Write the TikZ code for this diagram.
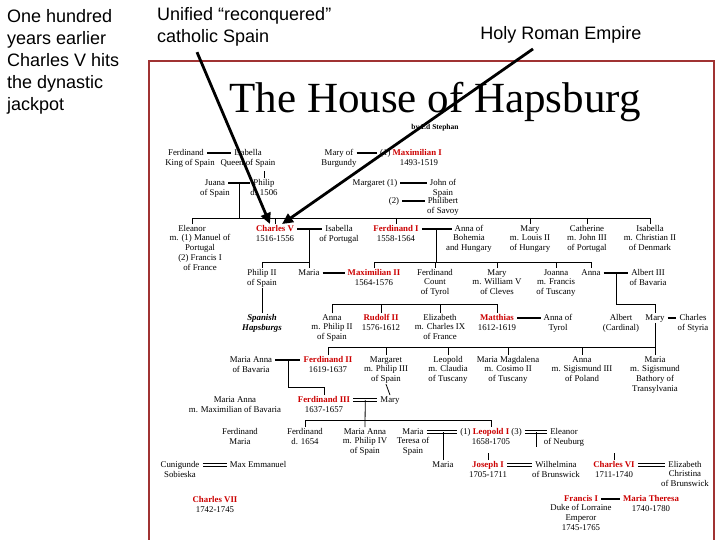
\documentclass[tikz,border=0pt]{standalone}
\usepackage{fontspec}
\setmainfont{Liberation Serif}
\newfontfamily\arialfont{Liberation Sans}
\usepackage{xcolor}
\usetikzlibrary{positioning,arrows.meta,calc}
\definecolor{hapred}{RGB}{204,0,0}
\definecolor{hapframe}{RGB}{160,50,50}
\newcommand\tfs{\fontsize{8.8}{9.8}\selectfont}

\begin{document}
\begin{tikzpicture}[x=1pt,y=-1pt,
    nm/.style={font=\tfs,inner xsep=1pt,inner ysep=0.5pt,text height=6.5pt,text depth=2pt},
    rn/.style={nm,font=\tfs\bfseries,text=hapred},
    dt/.style={font=\tfs,inner sep=0.5pt,align=center,execute at begin node={\rule{0pt}{6.5pt}}},
    lbl/.style={font=\arialfont\fontsize{18}{22}\selectfont,align=left,inner sep=0pt},
    tree/.style={line width=0.8pt},
    mar/.style={line width=1.6pt,shorten <=2pt,shorten >=2pt},
    dbl/.style={draw=black,double=white,line width=1pt,double distance=1.5pt,shorten <=2pt,shorten >=2pt},
    bigarr/.style={-{Triangle[length=11pt,width=10pt]},line width=2.8pt}]
\fill[white] (0,0) rectangle (720,540);
\useasboundingbox (0,0) rectangle (720,540);
\draw[hapframe,line width=1.2pt] (149,545) -- (149,61) -- (714,61) -- (714,545);

\node[lbl,anchor=north west] (early) at (7,9) {One hundred\\years earlier\\Charles V hits\\the dynastic\\jackpot};
\node[lbl,anchor=north west] (spain) at (157,7) {Unified “reconquered”\\catholic Spain};
\node[lbl,anchor=base] (hre) at (561,40) {Holy Roman Empire};

\node[font=\fontsize{43}{48}\selectfont,anchor=base,inner sep=0pt] (title) at (435,113) {The House of Hapsburg};
\node[font=\fontsize{7.5}{9}\selectfont\bfseries] (author) at (435,128) {by Ed Stephan};

% Ferdinand and Isabella, Maximilian I
\node[nm] (ferd) at (186,153) {Ferdinand};
\node[dt,below=0pt of ferd,xshift=4pt] (ferdD) {King of Spain};
\node[nm] (isab) at (248,153) {Isabella};
\node[dt,below=0pt of isab] (isabD) {Queen of Spain};
\node[nm] (maryb) at (339,153) {Mary of};
\node[dt,below=0pt of maryb] (marybD) {Burgundy};
\node[nm] (maxi) at (411,153) {(1) \textcolor{hapred}{\bfseries Maximilian I}};
\node[dt,below=0pt of maxi,xshift=8pt] (maxiD) {1493-1519};
\draw[mar] (ferd) -- (isab);
\draw[mar] (maryb) -- (maxi);

\node[nm] (juana) at (215,183) {Juana};
\node[dt,below=0pt of juana] (juanaD) {of Spain};
\node[nm] (philip) at (264,183) {Philip};
\node[dt,below=0pt of philip] (philipD) {d. 1506};
\node[nm] (marg) at (375,183) {Margaret (1)};
\node[nm] (john) at (443,183) {John of};
\node[dt,below=0pt of john] (johnD) {Spain};
\node[nm] (two) at (394,201) {(2)};
\node[nm] (philb) at (443,201) {Philibert};
\node[dt,below=0pt of philb] (philbD) {of Savoy};
\draw[mar] (juana) -- (philip);
\draw[mar] (marg) -- (john);
\draw[mar] (two) -- (philb);
\draw[tree] (philip.north) -- ++(0,-7);

% Charles V and his brothers and sisters
\coordinate (b1) at (0,218);
\node[nm] (elea) at (192,229) {Eleanor};
\node[dt,below=0pt of elea,xshift=8pt] (eleaD) {m. (1) Manuel of\\Portugal\\(2) Francis I\\of France};
\node[rn] (charles) at (275,229) {Charles V};
\node[dt,below=0pt of charles] (charlesD) {1516-1556};
\node[nm] (isport) at (339,229) {Isabella};
\node[dt,below=0pt of isport] (isportD) {of Portugal};
\node[rn] (ferd1) at (396,229) {Ferdinand I};
\node[dt,below=0pt of ferd1] (ferd1D) {1558-1564};
\node[nm] (annab) at (469,229) {Anna of};
\node[dt,below=0pt of annab] (annabD) {Bohemia\\and Hungary};
\node[nm] (maryh) at (530,229) {Mary};
\node[dt,below=0pt of maryh] (maryhD) {m. Louis II\\of Hungary};
\node[nm] (cath) at (587,229) {Catherine};
\node[dt,below=0pt of cath] (cathD) {m. John III\\of Portugal};
\node[nm] (isabd) at (650,229) {Isabella};
\node[dt,below=0pt of isabd] (isabdD) {m. Christian II\\of Denmark};
\coordinate (jp) at ($(juana.east)!.5!(philip.west)$);
\draw[tree] (jp) -- (jp |- b1);
\draw[tree] (elea.north) -- (elea.north |- b1) -- (isabd.north |- b1) -- (isabd.north);
\foreach \p in {charles,ferd1,maryh,cath} \draw[tree] (\p.north |- b1) -- (\p.north);
\draw[mar] (charles) -- (isport);
\draw[mar] (ferd1) -- (annab);

\coordinate (b2) at (0,262);
\node[nm] (phil2) at (262,273) {Philip II};
\node[dt,below=0pt of phil2] (phil2D) {of Spain};
\node[nm] (maria) at (309,273) {Maria};
\node[rn] (max2) at (374,273) {Maximilian II};
\node[dt,below=0pt of max2] (max2D) {1564-1576};
\node[nm] (ferdt) at (435,273) {Ferdinand};
\node[dt,below=0pt of ferdt] (ferdtD) {Count\\of Tyrol};
\node[nm] (marycl) at (497,273) {Mary};
\node[dt,below=0pt of marycl] (maryclD) {m. William V\\of Cleves};
\node[nm] (joanna) at (556,273) {Joanna};
\node[dt,below=0pt of joanna] (joannaD) {m. Francis\\of Tuscany};
\node[nm] (annaa) at (591,273) {Anna};
\node[nm] (alb3) at (648,273) {Albert III};
\node[dt,below=0pt of alb3] (alb3D) {of Bavaria};
\draw[mar] (maria) -- (max2);
\draw[mar] (annaa) -- (alb3);
\coordinate (cv) at ($(charles.east)!.5!(isport.west)$);
\draw[tree] (cv) -- (cv |- maria.north);
\draw[tree] (cv |- b2) -| (phil2.north);
\coordinate (fa) at ($(ferd1.east)!.5!(annab.west)$);
\draw[tree] (fa) -- (fa |- b2);
\draw[tree] (max2.north) |- (annaa.north |- b2) -- (annaa.north);
\foreach \p in {ferdt,marycl,joanna} \draw[tree] (\p.north |- b2) -- (\p.north);

% children of Maximilian II
\coordinate (b3) at (0,304);
\node[nm,font=\tfs\bfseries\itshape] (span) at (262,318) {Spanish};
\node[dt,font=\tfs\bfseries\itshape,below=0pt of span] (spanD) {Hapsburgs};
\node[nm] (annap) at (332,318) {Anna};
\node[dt,below=0pt of annap] (annapD) {m. Philip II\\of Spain};
\node[rn] (rudolf) at (381,318) {Rudolf II};
\node[dt,below=0pt of rudolf] (rudolfD) {1576-1612};
\node[nm] (elizf) at (440,318) {Elizabeth};
\node[dt,below=0pt of elizf] (elizfD) {m. Charles IX\\of France};
\node[rn] (matth) at (497,318) {Matthias};
\node[dt,below=0pt of matth] (matthD) {1612-1619};
\node[nm] (annat) at (558,318) {Anna of};
\node[dt,below=0pt of annat] (annatD) {Tyrol};
\node[nm] (albc) at (621,318) {Albert};
\node[dt,below=0pt of albc] (albcD) {(Cardinal)};
\node[nm] (marys) at (655,318) {Mary};
\node[nm] (charst) at (693,318) {Charles};
\node[dt,below=0pt of charst] (charstD) {of Styria};
\draw[tree] (phil2D.south) -- (span.north);
\draw[tree] (annap.north) |- (matth.north |- b3) -- (matth.north);
\foreach \p in {rudolf,elizf} \draw[tree] (\p.north |- b3) -- (\p.north);
\draw[mar] (matth) -- (annat);
\draw[mar] (marys) -- (charst);
\coordinate (aa) at ($(annaa.east)!.5!(alb3.west)$);
\draw[tree] (aa) |- (marys.north |- b3) -- (marys.north);

% Ferdinand II and the Styrian line
\coordinate (b4) at (0,347);
\node[nm] (maanb) at (251,360) {Maria Anna};
\node[dt,below=0pt of maanb] (maanbD) {of Bavaria};
\node[rn] (ferd2) at (328,360) {Ferdinand II};
\node[dt,below=0pt of ferd2] (ferd2D) {1619-1637};
\node[nm] (margp) at (386,360) {Margaret};
\node[dt,below=0pt of margp] (margpD) {m. Philip III\\of Spain};
\node[nm] (leop) at (448,360) {Leopold};
\node[dt,below=0pt of leop] (leopD) {m. Claudia\\of Tuscany};
\node[nm] (mmag) at (508,360) {Maria Magdalena};
\node[dt,below=0pt of mmag] (mmagD) {m. Cosimo II\\of Tuscany};
\node[nm] (annapl) at (582,360) {Anna};
\node[dt,below=0pt of annapl] (annaplD) {m. Sigismund III\\of Poland};
\node[nm] (mariat) at (655,360) {Maria};
\node[dt,below=0pt of mariat] (mariatD) {m. Sigismund\\Bathory of\\Transylvania};
\draw[tree] (marys.south) -- (mariat.north);
\draw[tree] (ferd2.north) |- (mariat.north |- b4);
\foreach \p in {margp,leop,mmag,annapl} \draw[tree] (\p.north |- b4) -- (\p.north);
\draw[mar] (maanb) -- (ferd2);

\node[nm] (maanm) at (235,400) {Maria Anna};
\node[dt,below=0pt of maanm] (maanmD) {m. Maximilian of Bavaria};
\node[rn] (ferd3) at (324,400) {Ferdinand III};
\node[dt,below=0pt of ferd3] (ferd3D) {1637-1657};
\node[nm] (marya) at (390,400) {Mary};
\draw[dbl] (ferd3.east) -- (marya.west);
\coordinate (mf) at ($(maanb.east)!.5!(ferd2.west)$);
\draw[tree] (mf) -- ++(0,27) -| (ferd3.north);
\draw[tree] (margpD.south) -- (marya.north);

% Leopold I
\coordinate (b5) at (0,420);
\node[nm] (ferdm) at (240,432) {Ferdinand};
\node[dt,below=0pt of ferdm] (ferdmD) {Maria};
\node[nm] (ferdd) at (305,432) {Ferdinand};
\node[dt,below=0pt of ferdd] (ferddD) {d. 1654};
\node[nm] (maanp) at (365,432) {Maria Anna};
\node[dt,below=0pt of maanp] (maanpD) {m. Philip IV\\of Spain};
\node[nm] (mtere) at (413,432) {Maria};
\node[dt,below=0pt of mtere] (mtereD) {Teresa of\\Spain};
\node[nm] (leo1) at (491,432) {(1) \textcolor{hapred}{\bfseries Leopold I} (3)};
\node[dt,below=0pt of leo1] (leo1D) {1658-1705};
\node[nm] (eleon) at (564,432) {Eleanor};
\node[dt,below=0pt of eleon] (eleonD) {of Neuburg};
\coordinate (fm) at ($(ferd3.east)!.5!(marya.west)$);
\draw[tree] (fm) -- (maanp.north);
\draw[tree] (ferdd.north) |- (leo1.north |- b5) -- (leo1.north);
\draw[dbl] (mtere.east) -- (leo1.west);
\draw[dbl] (leo1.east) -- (eleon.west);

\node[nm] (cuni) at (180,465) {Cunigunde};
\node[dt,below=0pt of cuni] (cuniD) {Sobieska};
\node[nm] (maxem) at (258,465) {Max Emmanuel};
\node[nm] (maria2) at (443,465) {Maria};
\node[rn] (jos) at (488,465) {Joseph I};
\node[dt,below=0pt of jos] (josD) {1705-1711};
\node[nm] (wilh) at (556,465) {Wilhelmina};
\node[dt,below=0pt of wilh] (wilhD) {of Brunswick};
\node[rn] (charl6) at (614,465) {Charles VI};
\node[dt,below=0pt of charl6] (charl6D) {1711-1740};
\node[nm] (elich) at (685,465) {Elizabeth};
\node[dt,below=0pt of elich] (elichD) {Christina\\of Brunswick};
\draw[tree] (maria2.north) -- (maria2.north |- mtere);
\coordinate (le) at ($(leo1.east)!.5!(eleon.west)$);
\draw[tree] (le) -- ++(0,15);
\draw[tree] (jos.north) -- ++(0,-7);
\draw[tree] (charl6.north) -- ++(0,-7);
\draw[dbl] (cuni.east) -- (maxem.west);
\draw[dbl] (jos.east) -- (wilh.west);
\draw[dbl] (charl6.east) -- (elich.west);

\node[rn] (charl7) at (215,500) {Charles VII};
\node[dt,below=0pt of charl7] (charl7D) {1742-1745};
\node[rn] (franc) at (581,499) {Francis I};
\node[dt,below=0pt of franc] (francD) {Duke of Lorraine\\Emperor\\1745-1765};
\node[rn] (mthe) at (651,499) {Maria Theresa};
\node[dt,below=0pt of mthe] (mtheD) {1740-1780};
\draw[mar] (franc) -- (mthe);

% pointers
\draw[bigarr] ([xshift=40pt,yshift=-6pt]spain.south west) -- ([xshift=-5pt]charles.north);
\draw[bigarr] ([xshift=-28pt,yshift=-5pt]hre.south) -- ([xshift=7pt]charles.north);
\end{tikzpicture}
\end{document}
